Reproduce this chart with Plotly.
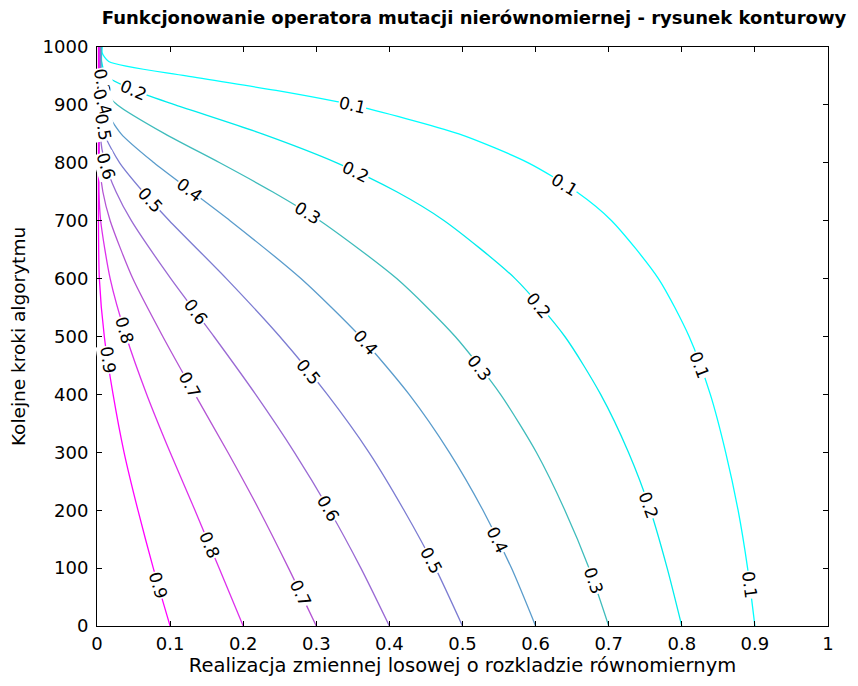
import numpy as np
import plotly.graph_objects as go

# ---- data ----
T = [0, 100, 200, 300, 400, 500, 600, 700, 750, 800, 850, 900, 925, 950, 975, 990, 1000]

levels = [0.1, 0.2, 0.3, 0.4, 0.5, 0.6, 0.7, 0.8, 0.9]

x_01 = [0.900, 0.890, 0.877, 0.860, 0.839, 0.810, 0.768, 0.704, 0.656, 0.590, 0.495, 0.349, 0.245, 0.122, 0.016, 0.007, 0.007]
x_02 = [0.800, 0.780, 0.757, 0.727, 0.689, 0.640, 0.572, 0.475, 0.410, 0.328, 0.226, 0.107, 0.051, 0.013, 0.0063, 0.0063, 0.0063]
x_03 = [0.700, 0.673, 0.640, 0.601, 0.552, 0.490, 0.410, 0.305, 0.240, 0.168, 0.093, 0.028, 0.010, 0.0057, 0.0057, 0.0057, 0.0057]
x_04 = [0.600, 0.567, 0.528, 0.482, 0.427, 0.360, 0.279, 0.182, 0.130, 0.078, 0.033, 0.008, 0.005, 0.005, 0.005, 0.005, 0.005]
x_05 = [0.500, 0.463, 0.420, 0.372, 0.315, 0.250, 0.177, 0.099, 0.063, 0.031, 0.010, 0.0045, 0.0045, 0.0045, 0.0045, 0.0045, 0.0045]
x_06 = [0.400, 0.361, 0.318, 0.270, 0.217, 0.160, 0.101, 0.047, 0.026, 0.011, 0.004, 0.004, 0.004, 0.004, 0.004, 0.004, 0.004]
x_07 = [0.300, 0.262, 0.222, 0.179, 0.134, 0.090, 0.049, 0.018, 0.008, 0.0033, 0.0033, 0.0033, 0.0033, 0.0033, 0.0033, 0.0033, 0.0033]
x_08 = [0.200, 0.167, 0.134, 0.100, 0.068, 0.040, 0.018, 0.005, 0.0027, 0.0027, 0.0027, 0.0027, 0.0027, 0.0027, 0.0027, 0.0027, 0.0027]
x_09 = [0.100, 0.077, 0.056, 0.037, 0.022, 0.010, 0.0032, 0.002, 0.002, 0.002, 0.002, 0.002, 0.002, 0.002, 0.002, 0.002, 0.002]

curves = [x_01, x_02, x_03, x_04, x_05, x_06, x_07, x_08, x_09]

# t positions of the inline contour labels, per level
label_t = {
    0.1: [900, 762, 451, 71],
    0.2: [926, 784, 554, 209],
    0.3: [940, 713, 446, 79],
    0.4: [905, 753, 490, 149],
    0.5: [862, 736, 439, 114],
    0.6: [795, 542, 204],
    0.7: [416, 57],
    0.8: [511, 140],
    0.9: [459, 71],
}

x_ticks = [0, 0.1, 0.2, 0.3, 0.4, 0.5, 0.6, 0.7, 0.8, 0.9, 1]
x_tick_text = ["0", "0.1", "0.2", "0.3", "0.4", "0.5", "0.6", "0.7", "0.8", "0.9", "1"]
y_ticks = [0, 100, 200, 300, 400, 500, 600, 700, 800, 900, 1000]

title = "Funkcjonowanie operatora mutacji nierównomiernej - rysunek konturowy"
x_title = "Realizacja zmiennej losowej o rozkladzie równomiernym"
y_title = "Kolejne kroki algorytmu"

colors = ["#00ffff", "#00eded", "#3fbcbc", "#5a9ccc", "#7c7cd2", "#9a6ad4",
          "#b455d4", "#dd30ec", "#ff00ff"]

# ---- figure ----
W, H = 858, 686
ML, MR, MT, MB = 97, 30, 47, 60
PW, PH = W - ML - MR, H - MT - MB
FONT = "DejaVu Sans, Arial, sans-serif"

fig = go.Figure()
for lev, xs, col in zip(levels, curves, colors):
    fig.add_trace(go.Scatter(x=xs, y=T, mode="lines",
                             line=dict(color=col, width=1.3, shape="spline", smoothing=0.7),
                             hoverinfo="skip", showlegend=False, name=str(lev)))

annotations = []
for lev, xs in zip(levels, curves):
    for tl in label_t[lev]:
        xl = float(np.interp(tl, T, xs))
        x1 = float(np.interp(tl - 15, T, xs))
        x2 = float(np.interp(tl + 15, T, xs))
        dxp = (x1 - x2) * PW
        dyp = 30 * PH / 1000.0
        ang = float(np.degrees(np.arctan2(dyp, dxp)))
        annotations.append(dict(x=xl, y=tl, xref="x", yref="y", text=f"{lev:.1f}",
                                showarrow=False, textangle=ang,
                                font=dict(family=FONT, size=17, color="black"),
                                bgcolor="white", borderpad=0))

fig.update_layout(
    width=W, height=H,
    margin=dict(l=ML, r=MR, t=MT, b=MB, autoexpand=False),
    paper_bgcolor="white", plot_bgcolor="white",
    title=dict(text=f"<b>{title}</b>", x=474 / W, xanchor="center",
               y=1 - 18 / H, yanchor="middle", yref="container",
               font=dict(family=FONT, size=18, color="black")),
    annotations=annotations,
    font=dict(family=FONT, size=18, color="black"),
)
fig.update_xaxes(range=[0, 1], tickvals=x_ticks, ticktext=x_tick_text,
                 ticks="inside", ticklen=5, tickcolor="black", showline=True,
                 linecolor="black", linewidth=1, mirror="ticks", showgrid=False,
                 zeroline=False, tickfont=dict(family=FONT, size=18),
                 ticklabelstandoff=1,
                 title=dict(text=x_title, standoff=4, font=dict(family=FONT, size=19.5)),
                 automargin=False)
fig.update_yaxes(range=[0, 1000], tickvals=y_ticks,
                 ticks="inside", ticklen=5, tickcolor="black", showline=True,
                 linecolor="black", linewidth=1, mirror="ticks", showgrid=False,
                 zeroline=False, tickfont=dict(family=FONT, size=18),
                 ticklabelstandoff=4,
                 title=dict(text=y_title, standoff=12, font=dict(family=FONT, size=18.5)),
                 automargin=False)

fig.write_html("out.html")
